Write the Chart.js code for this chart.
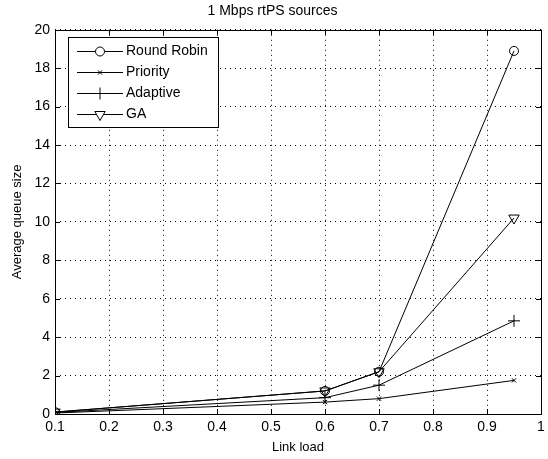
<!DOCTYPE html>
<html>
<head>
<meta charset="utf-8">
<script src="https://cdn.jsdelivr.net/npm/chart.js@4/dist/chart.umd.min.js"></script>
<style>
  html, body { margin: 0; padding: 0; background: #fff; }
  #wrap { width: 548px; height: 459px; }
</style>
</head>
<body>
<div id="wrap"><canvas id="chart" width="548" height="459"></canvas></div>
<script>
// données
const linkLoad = [0.1, 0.6, 0.7, 0.95];
const roundRobin = [0.1, 1.2, 2.2, 18.9];
const priority = [0.05, 0.62, 0.8, 1.75];
const adaptive = [0.08, 0.85, 1.5, 4.85];
const ga = [0.1, 1.2, 2.2, 10.2];
const seriesNames = ['Round Robin', 'Priority', 'Adaptive', 'GA'];
const xTicks = [0.1, 0.2, 0.3, 0.4, 0.5, 0.6, 0.7, 0.8, 0.9, 1];
const yTicks = [0, 2, 4, 6, 8, 10, 12, 14, 16, 18, 20];

const FONT = 'Liberation Sans, Arial, sans-serif';

function pts(ys) {
    return linkLoad.map((x, i) => ({ x: x, y: ys[i] }));
}

function makeSet(label, ys, style, radius, rot) {
    return {
        label: label,
        data: pts(ys),
        borderColor: '#000',
        borderWidth: 1,
        backgroundColor: 'transparent',
        pointStyle: style,
        pointRadius: radius,
        pointRotation: rot || 0,
        pointBorderColor: '#000',
        pointBackgroundColor: 'transparent',
        pointBorderWidth: 1,
        tension: 0
    };
}

// cadre + petites graduations vers l'intérieur, façon MATLAB
const framePlugin = {
    id: 'frame',
    afterDraw(chart) {
        const { ctx, chartArea: a, scales } = chart;
        ctx.save();
        ctx.strokeStyle = '#000';
        ctx.lineWidth = 1;
        ctx.strokeRect(Math.round(a.left) + 0.5, Math.round(a.top) + 0.5,
            Math.round(a.right - a.left), Math.round(a.bottom - a.top));
        ctx.beginPath();
        xTicks.forEach(v => {
            const px = Math.round(scales.x.getPixelForValue(v)) + 0.5;
            ctx.moveTo(px, a.bottom); ctx.lineTo(px, a.bottom - 5);
            ctx.moveTo(px, a.top); ctx.lineTo(px, a.top + 5);
        });
        yTicks.forEach(v => {
            const py = Math.round(scales.y.getPixelForValue(v)) + 0.5;
            ctx.moveTo(a.left, py); ctx.lineTo(a.left + 5, py);
            ctx.moveTo(a.right, py); ctx.lineTo(a.right - 5, py);
        });
        ctx.stroke();

        // légende dans le coin haut gauche
        const bx = a.left + 13, by = a.top + 7, bw = 150, bh = 90;
        ctx.fillStyle = '#fff';
        ctx.fillRect(bx, by, bw, bh);
        ctx.strokeRect(Math.round(bx) + 0.5, Math.round(by) + 0.5, bw, bh);
        ctx.font = '14px ' + FONT;
        ctx.textBaseline = 'middle';
        chart.data.datasets.forEach((ds, i) => {
            const y = Math.round(by + 14 + i * 21) + 0.5;
            ctx.beginPath();
            ctx.moveTo(bx + 9, y); ctx.lineTo(bx + 55, y);
            ctx.stroke();
            ctx.fillStyle = '#fff';
            Chart.helpers.drawPoint(ctx, {
                pointStyle: ds.pointStyle,
                radius: ds.pointRadius,
                rotation: ds.pointRotation,
                borderWidth: 1
            }, bx + 32, y);
            ctx.fillStyle = '#000';
            ctx.fillText(ds.label, bx + 58, y);
        });
        ctx.restore();
    }
};

new Chart(document.getElementById('chart'), {
    type: 'line',
    data: {
        datasets: [
            makeSet(seriesNames[0], roundRobin, 'circle', 4.5),
            makeSet(seriesNames[1], priority, 'crossRot', 3),
            makeSet(seriesNames[2], adaptive, 'cross', 6),
            makeSet(seriesNames[3], ga, 'triangle', 6, 180)
        ]
    },
    options: {
        responsive: false,
        animation: false,
        layout: { padding: { left: 0, right: 3, top: 0, bottom: 0 } },
        plugins: {
            legend: { display: false },
            tooltip: { enabled: false },
            title: {
                display: true,
                text: '1 Mbps rtPS sources',
                color: '#000',
                font: { family: FONT, size: 14, weight: 'normal' },
                padding: { top: 3, bottom: 10 }
            }
        },
        scales: {
            x: {
                type: 'linear',
                min: 0.1,
                max: 1,
                afterBuildTicks: s => { s.ticks = xTicks.map(v => ({ value: v })); },
                afterFit: s => { s.height = 45; s.paddingLeft = 0; s.paddingRight = 0; },
                grid: { color: '#000', lineWidth: 1, drawTicks: false },
                border: { display: false, dash: [1, 4] },
                ticks: {
                    color: '#000',
                    padding: 5,
                    maxRotation: 0,
                    font: { family: FONT, size: 14 },
                    callback: v => String(Math.round(v * 10) / 10)
                },
                title: {
                    display: true,
                    text: 'Link load',
                    color: '#000',
                    font: { family: FONT, size: 13 },
                    padding: { top: 0, bottom: 4 }
                }
            },
            y: {
                min: 0,
                max: 20,
                afterBuildTicks: s => { s.ticks = yTicks.map(v => ({ value: v })); },
                afterFit: s => { s.width = 55; },
                grid: { color: '#000', lineWidth: 1, drawTicks: false },
                border: { display: false, dash: [1, 4] },
                ticks: {
                    color: '#000',
                    padding: 5,
                    font: { family: FONT, size: 14 }
                },
                title: {
                    display: true,
                    text: 'Average queue size',
                    color: '#000',
                    font: { family: FONT, size: 13 },
                    padding: { top: 10, bottom: 0 }
                }
            }
        }
    },
    plugins: [framePlugin]
});
</script>
</body>
</html>
